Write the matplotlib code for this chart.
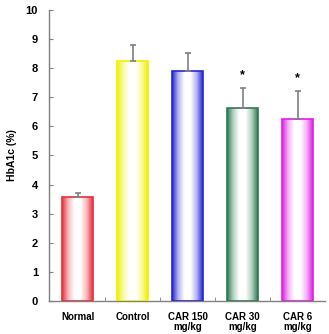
import numpy as np
import matplotlib
matplotlib.use("Agg")
import matplotlib.pyplot as plt
from matplotlib.colors import to_rgb, LinearSegmentedColormap

categories = ["Normal", "Control", "CAR 150\nmg/kg", "CAR 30\nmg/kg", "CAR 6\nmg/kg"]
values = [3.56, 8.26, 7.89, 6.62, 6.25]
errors = [0.16, 0.55, 0.63, 0.70, 0.95]
colors = ["#e8303c", "#f0f000", "#2626d6", "#2e7a52", "#e020e6"]
significant = [False, False, False, True, True]
yticks = list(range(0, 11))

plt.rcParams['font.family'] = ['Liberation Sans', 'DejaVu Sans']
fig = plt.figure(figsize=(3.29, 3.34), dpi=100)
ax = fig.add_axes([0.149, 0.099, 0.839, 0.871])

x = np.arange(len(categories))
width = 0.56
grey = "#808080"

bars = ax.bar(x, values, width=width, facecolor="none", edgecolor=colors, linewidth=1.2, zorder=3)
grad = np.linspace(0, 1, 256)
for b, c in zip(bars, colors):
    rgb = np.array(to_rgb(c))
    cmap = LinearSegmentedColormap.from_list("g", [rgb, rgb * 0.35 + 0.65, (1, 1, 1), (1, 1, 1), rgb * 0.35 + 0.65, rgb],)
    xs = b.get_x()
    im = ax.imshow(grad[np.newaxis, :], cmap=cmap, aspect="auto",
                   extent=[xs, xs + b.get_width(), 0, b.get_height()], zorder=2)
    im.set_clip_path(b)

ax.errorbar(x, values, yerr=[np.zeros(len(values)), errors], fmt="none",
            ecolor=grey, elinewidth=1.2, capsize=2.5, capthick=1.2, zorder=4)
for xi, v, e, s in zip(x, values, errors, significant):
    if s:
        ax.text(xi, v + e + 0.45, "*", ha="center", va="center", fontsize=9, fontweight="bold")

ax.set_xlim(-0.5, len(categories) - 0.5)
ax.set_ylim(0, 10)
ax.set_yticks(yticks)
ax.set_yticklabels([str(t) for t in yticks], fontsize=8, fontweight="bold")
ax.set_xticks(x)
ax.set_xticklabels(categories, fontsize=7, fontweight="bold", linespacing=0.95)
ax.set_xticks(np.arange(0.5, len(categories) - 0.5, 1), minor=True)
ax.tick_params(axis="x", which="major", length=0, pad=8)
ax.tick_params(axis="x", which="minor", direction="in", length=3, color=grey)
ax.tick_params(axis="y", direction="in", length=3, color=grey, pad=8)
ax.set_ylabel("HbA1c (%)", fontsize=7.5, fontweight="bold", labelpad=6)
for sp in ["top", "right"]:
    ax.spines[sp].set_visible(False)
for sp in ["left", "bottom"]:
    ax.spines[sp].set_color(grey)
    ax.spines[sp].set_linewidth(1.0)
ax.set_xlim(-0.52, len(categories) - 0.5)

fig.savefig("out.png", dpi=100)
